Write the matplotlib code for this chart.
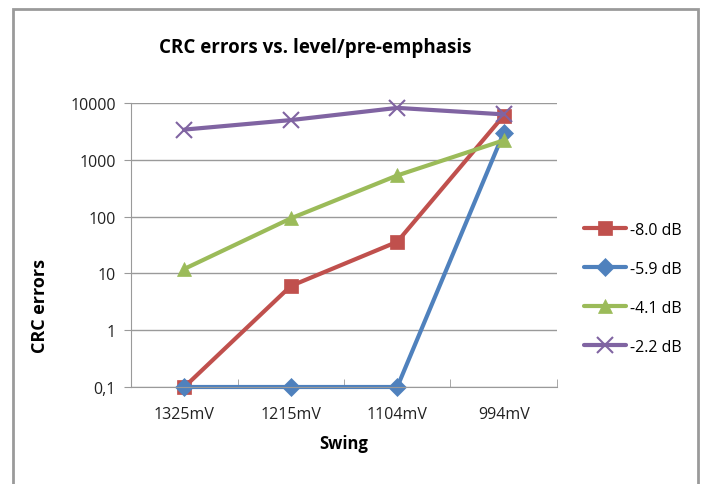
import numpy as np
import matplotlib.pyplot as plt
from matplotlib.patches import Rectangle
from matplotlib.ticker import FixedLocator, NullLocator

plt.rcParams['font.family'] = ['Open Sans', 'DejaVu Sans']

# Data
swing = ["1325mV", "1215mV", "1104mV", "994mV"]
labels = ["-8.0 dB", "-5.9 dB", "-4.1 dB", "-2.2 dB"]
err_80 = [0.1, 6, 36, 6000]
err_59 = [0.1, 0.1, 0.1, 3000]
err_41 = [12, 93, 530, 2200]
err_22 = [3400, 5000, 8200, 6300]

colors = ["#C0504D", "#4F81BD", "#9BBB59", "#8064A2"]
markers = ["s", "D", "^", "x"]
msizes = [10, 9, 10, 11]

fig = plt.figure(figsize=(7.05, 4.85), dpi=100)
ax = fig.add_axes([0.186, 0.2, 0.604, 0.5856])

# outer chart border
fig.patches.append(Rectangle((13 / 705, -0.01), (698 - 13) / 705, (485 - 10) / 485 + 0.01,
                             transform=fig.transFigure, fill=False,
                             edgecolor="#9a9a9a", linewidth=2))

x = np.arange(len(swing))
for vals, lab, c, m, ms in zip([err_80, err_59, err_41, err_22], labels, colors, markers, msizes):
    ax.plot(x, vals, color=c, marker=m, markersize=ms, linewidth=3, label=lab,
            markeredgewidth=1.5 if m == "x" else 0.5, markeredgecolor=c,
            solid_capstyle="round", clip_on=False)

ax.set_yscale("log")
ax.set_ylim(0.1, 10000)
ax.set_xlim(-0.5, 3.5)
yt = [0.1, 1, 10, 100, 1000, 10000]
ax.yaxis.set_major_locator(FixedLocator(yt))
ax.yaxis.set_minor_locator(NullLocator())
ax.set_yticklabels(["0,1", "1", "10", "100", "1000", "10000"])
ax.set_xticks(x)
ax.set_xticklabels(swing)
ax.set_xticks(np.arange(-0.5, 4, 1), minor=True)
ax.tick_params(axis="x", which="major", length=0, pad=14, labelsize=11.5, colors="#222222")
ax.tick_params(axis="x", which="minor", length=6, color="#9a9a9a", direction="in")
ax.tick_params(axis="y", length=5, color="#9a9a9a", pad=6, labelsize=11.5, labelcolor="#222222")
ax.grid(axis="y", color="#9a9a9a", linewidth=1)
ax.set_axisbelow(True)
for s in ["top", "right"]:
    ax.spines[s].set_visible(False)
for s in ["left", "bottom"]:
    ax.spines[s].set_color("#9a9a9a")

ax.set_xlabel("Swing", fontsize=12, fontweight="bold", labelpad=8)
fig.text(40 / 705, 1 - 306 / 485, "CRC errors", fontsize=13, fontweight="bold",
         rotation=90, ha="center", va="center")
fig.text(0.447, 0.9, "CRC errors vs. level/pre-emphasis", fontsize=13.5,
         fontweight="bold", ha="center", va="center")

ax.legend(loc="upper left", bbox_to_anchor=(1.03, 0.633), frameon=False,
          fontsize=11.5, labelspacing=1.45, handlelength=2.6, handletextpad=0.3)

fig.savefig("out.png", dpi=100)
